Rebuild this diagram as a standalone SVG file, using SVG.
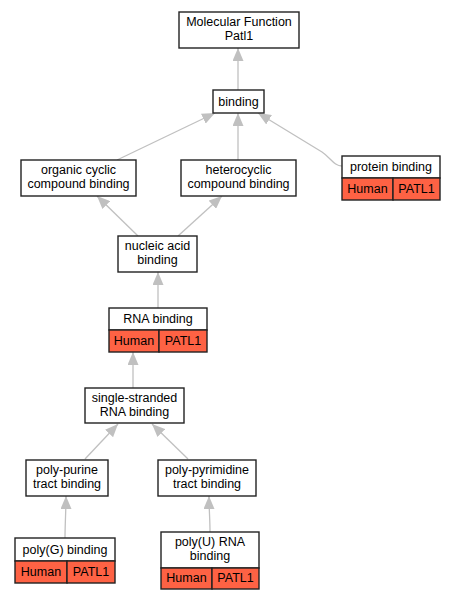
<svg xmlns="http://www.w3.org/2000/svg" width="455" height="600" viewBox="0 0 455 600">
<defs>
<marker id="arr" markerWidth="13" markerHeight="11" refX="13" refY="5.5" orient="auto" markerUnits="userSpaceOnUse">
<path d="M0,0 L13,5.5 L0,11 z" fill="#c0c0c0" stroke="none"/>
</marker>
<style>
.box{fill:#ffffff;stroke:#222;stroke-width:1.4}
.red{fill:#fe6244;stroke:#222;stroke-width:1.4}
.e{fill:none;stroke:#c0c0c0;stroke-width:1.3;marker-end:url(#arr)}
text{font-family:"Liberation Sans",Arial,sans-serif;font-size:12.5px;fill:#000;text-anchor:middle}
</style>
</defs>
<rect width="455" height="600" fill="#ffffff"/>
<g id="connectors">
<path class="e" d="M238,90 L238,48"/>
<path class="e" d="M117,160 L215,113"/>
<path class="e" d="M238,160 L238,113"/>
<path class="e" d="M342,166 C334,166 331,158 322,152 L258,113"/>
<path class="e" d="M138,236 L97,196"/>
<path class="e" d="M178,236 L222,196"/>
<path class="e" d="M158,308 L158,272"/>
<path class="e" d="M133,388 L133,352"/>
<path class="e" d="M85,459 L118,424"/>
<path class="e" d="M188,459 L152,424"/>
<path class="e" d="M65,538 C65,525 66,510 66,496"/>
<path class="e" d="M210,532 C210,520 209,508 209,496"/>
</g>
<g id="mf">
<rect class="box" x="179" y="12" width="120" height="36"/>
<text x="239" y="25.5">Molecular Function</text>
<text x="239" y="39.5">Patl1</text>
</g>
<g id="binding">
<rect class="box" x="213" y="90" width="51" height="23"/>
<text x="238.5" y="106">binding</text>
</g>
<g id="organic">
<rect class="box" x="21" y="160" width="115" height="36"/>
<text x="78.5" y="173.5">organic cyclic</text>
<text x="78.5" y="187.5">compound binding</text>
</g>
<g id="heterocyclic">
<rect class="box" x="181" y="160" width="115" height="36"/>
<text x="238.5" y="173.5">heterocyclic</text>
<text x="238.5" y="187.5">compound binding</text>
</g>
<g id="protein">
<rect class="box" x="342" y="156" width="98" height="22"/>
<rect class="red" x="342" y="178" width="51" height="22"/>
<rect class="red" x="393" y="178" width="47" height="22"/>
<text x="391" y="171">protein binding</text>
<text x="367.5" y="193">Human</text>
<text x="416.5" y="193">PATL1</text>
</g>
<g id="nucleic">
<rect class="box" x="118" y="236" width="79" height="36"/>
<text x="157.5" y="249.5">nucleic acid</text>
<text x="157.5" y="263.5">binding</text>
</g>
<g id="rna">
<rect class="box" x="109" y="308" width="98" height="22"/>
<rect class="red" x="109" y="330" width="50" height="22"/>
<rect class="red" x="159" y="330" width="48" height="22"/>
<text x="158" y="323">RNA binding</text>
<text x="134" y="345">Human</text>
<text x="183" y="345">PATL1</text>
</g>
<g id="single">
<rect class="box" x="85" y="388" width="99" height="35"/>
<text x="134.5" y="401.5">single-stranded</text>
<text x="134.5" y="415.5">RNA binding</text>
</g>
<g id="purine">
<rect class="box" x="26" y="460" width="82" height="36"/>
<text x="67" y="473.5">poly-purine</text>
<text x="67" y="487.5">tract binding</text>
</g>
<g id="pyrimidine">
<rect class="box" x="158" y="460" width="98" height="36"/>
<text x="207" y="473.5">poly-pyrimidine</text>
<text x="207" y="487.5">tract binding</text>
</g>
<g id="polyg">
<rect class="box" x="15" y="538" width="100" height="23"/>
<rect class="red" x="15" y="561" width="52" height="22"/>
<rect class="red" x="67" y="561" width="48" height="22"/>
<text x="65" y="554">poly(G) binding</text>
<text x="41" y="576">Human</text>
<text x="91" y="576">PATL1</text>
</g>
<g id="polyu">
<rect class="box" x="161" y="532" width="98" height="36"/>
<rect class="red" x="161" y="568" width="51" height="21"/>
<rect class="red" x="212" y="568" width="47" height="21"/>
<text x="210" y="545.5">poly(U) RNA</text>
<text x="210" y="559.5">binding</text>
<text x="186.5" y="582">Human</text>
<text x="235.5" y="582">PATL1</text>
</g>
</svg>
